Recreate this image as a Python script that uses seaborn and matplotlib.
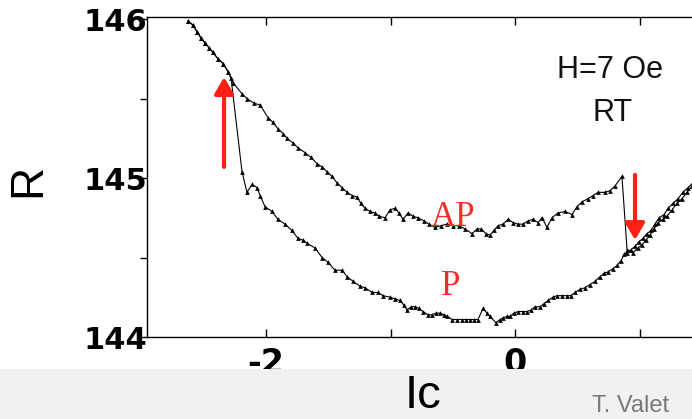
import matplotlib
matplotlib.use("Agg")
import matplotlib.pyplot as plt
from matplotlib.patches import Rectangle
import seaborn as sns
import pandas as pd

# ---------------- data ----------------
# common start (both sweeps share this part, high-R region at negative Ic)
common_x = [-2.627, -2.586, -2.554, -2.522, -2.490, -2.458, -2.426, -2.386, -2.345, -2.305]
common_y = [145.99, 145.96, 145.92, 145.88, 145.85, 145.82, 145.79, 145.75, 145.72, 145.67]

# AP branch (upper), ends with switching AP -> P at positive Ic
ap_x = [-2.265, -2.193, -2.153, -2.096, -2.048, -1.984, -1.944, -1.904, -1.863, -1.831,
        -1.783, -1.743, -1.687, -1.639, -1.590, -1.550, -1.510, -1.470, -1.430, -1.390,
        -1.349, -1.309, -1.269, -1.237, -1.205, -1.165, -1.124, -1.092, -1.044, -1.004,
        -0.964, -0.932, -0.900, -0.859, -0.819, -0.779, -0.731, -0.691, -0.643, -0.594,
        -0.546, -0.498, -0.450, -0.402, -0.345, -0.305, -0.273, -0.233, -0.201, -0.169,
        -0.137, -0.096, -0.056, -0.016, 0.024, 0.064, 0.104, 0.145, 0.185, 0.217,
        0.257, 0.297, 0.345, 0.402, 0.458, 0.498, 0.538, 0.586, 0.627, 0.667,
        0.723, 0.763, 0.803, 0.859, 0.900]
ap_y = [145.60, 145.53, 145.50, 145.47, 145.46, 145.38, 145.35, 145.31, 145.28, 145.25,
        145.22, 145.19, 145.16, 145.13, 145.09, 145.07, 145.04, 145.01, 144.97, 144.94,
        144.91, 144.89, 144.88, 144.84, 144.81, 144.79, 144.78, 144.76, 144.75, 144.80,
        144.81, 144.78, 144.74, 144.78, 144.76, 144.75, 144.73, 144.71, 144.69, 144.70,
        144.71, 144.70, 144.70, 144.68, 144.65, 144.68, 144.68, 144.65, 144.64, 144.67,
        144.70, 144.71, 144.74, 144.72, 144.71, 144.71, 144.73, 144.74, 144.72, 144.75,
        144.69, 144.75, 144.78, 144.79, 144.77, 144.82, 144.85, 144.87, 144.89, 144.91,
        144.91, 144.92, 144.95, 145.01, 144.55]

# right end of the upward sweep (P state, high positive Ic)
right_up_x = [0.948, 0.988, 1.020, 1.052, 1.084, 1.116, 1.149, 1.189, 1.221, 1.261,
              1.301, 1.341, 1.382, 1.422]
right_up_y = [144.53, 144.56, 144.58, 144.61, 144.64, 144.68, 144.72, 144.74, 144.76, 144.80,
              144.84, 144.87, 144.91, 144.95]

# right end of the downward sweep (returning path)
right_dn_x = [1.430, 1.390, 1.349, 1.309, 1.269, 1.229, 1.197, 1.157, 1.124, 1.092,
              1.060, 1.028, 0.996, 0.964, 0.932]
right_dn_y = [144.97, 144.94, 144.91, 144.87, 144.84, 144.81, 144.77, 144.75, 144.71, 144.67,
              144.65, 144.62, 144.60, 144.57, 144.55]

# P branch (lower), from right to the left switching P -> AP at negative Ic
p_x = [0.900, 0.876, 0.851, 0.819, 0.787, 0.747, 0.715, 0.683, 0.643, 0.602,
       0.562, 0.522, 0.482, 0.450, 0.418, 0.378, 0.337, 0.305, 0.265, 0.233,
       0.201, 0.161, 0.129, 0.096, 0.064, 0.024, -0.008, -0.040, -0.064, -0.096,
       -0.120, -0.153, -0.201, -0.225, -0.257, -0.297, -0.329, -0.361, -0.394, -0.426,
       -0.466, -0.506, -0.546, -0.570, -0.602, -0.635, -0.667, -0.699, -0.739, -0.771,
       -0.803, -0.835, -0.867, -0.892, -0.924, -0.964, -1.004, -1.060, -1.100, -1.149,
       -1.205, -1.245, -1.301, -1.349, -1.390, -1.446, -1.502, -1.550, -1.606, -1.671,
       -1.703, -1.743, -1.791, -1.847, -1.904, -1.952, -2.008, -2.048, -2.072, -2.112,
       -2.153, -2.193, -2.281]
p_y = [144.53, 144.52, 144.48, 144.45, 144.43, 144.41, 144.40, 144.38, 144.35, 144.33,
       144.31, 144.30, 144.28, 144.26, 144.26, 144.26, 144.26, 144.25, 144.23, 144.21,
       144.19, 144.19, 144.17, 144.16, 144.16, 144.16, 144.15, 144.13, 144.13, 144.12,
       144.11, 144.09, 144.13, 144.15, 144.18, 144.11, 144.11, 144.11, 144.11, 144.11,
       144.11, 144.11, 144.13, 144.14, 144.15, 144.15, 144.14, 144.14, 144.16, 144.18,
       144.19, 144.19, 144.17, 144.20, 144.23, 144.24, 144.25, 144.26, 144.28, 144.28,
       144.31, 144.32, 144.35, 144.38, 144.42, 144.42, 144.47, 144.50, 144.56, 144.59,
       144.61, 144.62, 144.67, 144.71, 144.74, 144.79, 144.82, 144.89, 144.94, 144.96,
       144.91, 145.04, 145.63]

y_ticks = [144, 144.5, 145, 145.5, 146]
y_tick_labels = ["144", "", "145", "", "146"]
x_ticks = [-2, -1, 0, 1]
x_tick_labels = ["-2", "", "0", ""]

# ---------------- build sweeps ----------------
up_x = common_x + ap_x + right_up_x
up_y = common_y + ap_y + right_up_y
down_x = right_dn_x + p_x + common_x[::-1]
down_y = right_dn_y + p_y + common_y[::-1]

df_up = pd.DataFrame({"Ic": up_x, "R": up_y})
df_dn = pd.DataFrame({"Ic": down_x, "R": down_y})

# ---------------- figure ----------------
sns.set_style("white")
plt.rcParams["font.family"] = ["Liberation Sans", "DejaVu Sans"]

fig = plt.figure(figsize=(6.92, 4.19), dpi=100)
fig.patch.set_facecolor("white")
ax = fig.add_axes([147 / 692, (419 - 337) / 419, 1 - 147 / 692, (337 - 17) / 419])

line_kw = dict(sort=False, estimator=None, color="black", linewidth=0.8,
               marker="^", markersize=3.4, markeredgewidth=0, ax=ax)
sns.lineplot(data=df_up, x="Ic", y="R", **line_kw)
sns.lineplot(data=df_dn, x="Ic", y="R", **line_kw)

ax.set_xlim(-2.956, 1.4217)
ax.set_ylim(144.0, 146.013)

for s in ["left", "bottom", "top"]:
    ax.spines[s].set_visible(True)
    ax.spines[s].set_color("black")
    ax.spines[s].set_linewidth(1.0)
ax.spines["right"].set_visible(False)

ax.set_xticks(x_ticks)
ax.set_xticklabels(x_tick_labels, fontsize=24, fontweight="bold",
                   family=["DejaVu Sans"], color="black")
ax.set_yticks(y_ticks)
ax.set_yticklabels(y_tick_labels, fontsize=22, fontweight="bold",
                   family=["DejaVu Sans"], color="black")
ax.tick_params(axis="x", direction="in", length=6, width=1, top=True, bottom=True,
               pad=7, colors="black")
ax.tick_params(axis="y", direction="out", length=5, width=1, left=True, pad=-5,
               colors="black")
ax.set_xlabel("")
ax.set_ylabel("")

# annotations
ax.text(-0.5, 144.75, "AP", color="#ff2a2a", fontsize=25,
        family=["Liberation Serif", "DejaVu Serif"], ha="center", va="center")
ax.text(-0.515, 144.32, "P", color="#ff2a2a", fontsize=25,
        family=["Liberation Serif", "DejaVu Serif"], ha="center", va="center")
ax.text(0.765, 145.68, "H=7 Oe", color="#111111", fontsize=22,
        ha="center", va="center")
ax.text(0.78, 145.41, "RT", color="#111111", fontsize=22,
        ha="center", va="center")

arrow_kw = dict(arrowstyle="-|>,head_length=0.55,head_width=0.32",
                color="#ff2015", lw=3, mutation_scale=18, shrinkA=0, shrinkB=0)
ax.annotate("", xy=(-2.337, 145.635), xytext=(-2.337, 145.07), arrowprops=arrow_kw)
ax.annotate("", xy=(0.964, 144.61), xytext=(0.964, 145.02), arrowprops=arrow_kw)

# axis titles
fig.text(28 / 692, 1 - 180 / 419, "R", fontsize=33, rotation=90,
         ha="center", va="center", color="black")

# bottom grey band (slide background)
fig.add_artist(Rectangle((0, 0), 1, (419 - 369) / 419, transform=fig.transFigure,
                         facecolor="#f1f1f1", edgecolor="none", zorder=5))
fig.text(423 / 692, 1 - 396 / 419, "Ic", fontsize=34, ha="center", va="center",
         family=["Liberation Sans Narrow", "Liberation Sans", "DejaVu Sans"],
         color="black", zorder=6)
fig.text(592 / 692, 2 / 419, "T. Valet", fontsize=17, ha="left", va="bottom",
         color="#7a7a7a", zorder=6)

fig.savefig("out.png", dpi=100)
